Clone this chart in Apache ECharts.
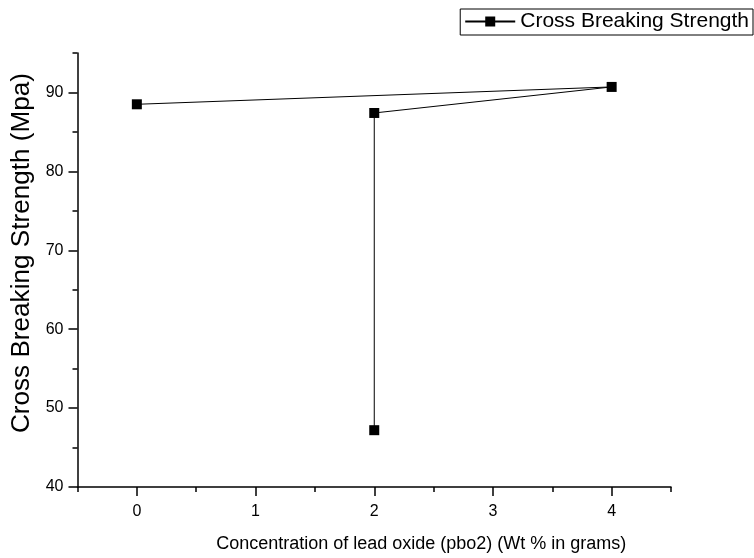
<!DOCTYPE html>
<html>
<head>
<meta charset="utf-8">
<script src="https://cdn.jsdelivr.net/npm/echarts@6/dist/echarts.min.js"></script>
<style>html,body{margin:0;padding:0;background:#fff}#c{width:754px;height:558px}</style>
</head>
<body>
<div id="c"></div>
<script>
const seriesName = 'Cross Breaking Strength';
const xValues = [0, 4, 2, 2];
const yValues = [88.5, 90.7, 87.4, 47.2];
const xTickLabels = [0, 1, 2, 3, 4];
const yTickLabels = [40, 50, 60, 70, 80, 90];
const xTitle = 'Concentration of lead oxide (pbo2) (Wt % in grams)';
const yTitle = 'Cross Breaking Strength (Mpa)';

const FONT = '"Liberation Sans", Arial, sans-serif';
const points = xValues.map((x, i) => [x, yValues[i]]);

const chart = echarts.init(document.getElementById('c'), null, {renderer: 'canvas'});
const baseAxis = {
  type: 'value',
  splitLine: {show: false},
  axisLine: {onZero: false, lineStyle: {color: '#000', width: 1.5}},
  axisTick: {inside: false, length: 5, lineStyle: {color: '#000', width: 1.5}},
  axisLabel: {show: false}
};
chart.setOption({
  animation: false,
  textStyle: {fontFamily: FONT},
  grid: {left: 77.5, right: 83, top: 53, bottom: 67.5},
  legend: {
    data: [seriesName],
    right: 1, top: 9,
    borderColor: '#000', borderWidth: 1,
    borderRadius: 0,
    padding: [2, 4, 3, 4],
    itemWidth: 50, itemHeight: 12.5,
    itemGap: 6,
    textStyle: {fontSize: 21, color: '#000', fontFamily: FONT}
  },
  graphic: [{
    type: 'text',
    x: 22.5, y: 253,
    rotation: Math.PI / 2,
    scaleX: 1.045,
    silent: true,
    style: {
      text: yTitle,
      fontSize: 25,
      fontFamily: FONT,
      fill: '#000',
      textAlign: 'center',
      textVerticalAlign: 'middle'
    }
  }],
  xAxis: [
    Object.assign({}, baseAxis, {position: 'bottom', min: -0.5, max: 4.5, interval: 0.5}),
    {
      type: 'value', position: 'bottom', min: -0.5, max: 4.5, interval: 0.5,
      splitLine: {show: false},
      axisLine: {show: false, onZero: false},
      axisTick: {show: true, length: 9, customValues: xTickLabels, lineStyle: {color: '#000', width: 1.5}},
      axisLabel: {show: true, customValues: xTickLabels, fontSize: 16, color: '#000', margin: 17, fontFamily: FONT},
      name: xTitle,
      nameLocation: 'middle', nameGap: 48,
      nameTextStyle: {fontSize: 18, color: '#000', fontFamily: FONT, padding: [0, 0, 0, 94]}
    }
  ],
  yAxis: [
    Object.assign({}, baseAxis, {position: 'left', min: 40, max: 95, interval: 5}),
    {
      type: 'value', position: 'left', min: 40, max: 95, interval: 5,
      splitLine: {show: false},
      axisLine: {show: false, onZero: false},
      axisTick: {show: true, length: 9, customValues: yTickLabels, lineStyle: {color: '#000', width: 1.5}},
      axisLabel: {show: true, customValues: yTickLabels, fontSize: 16, color: '#000', margin: 14, fontFamily: FONT}
    }
  ],
  series: [{
    name: seriesName,
    type: 'line',
    xAxisIndex: 0, yAxisIndex: 0,
    data: points,
    symbol: 'rect', symbolSize: 10,
    itemStyle: {color: '#000'},
    lineStyle: {color: '#000', width: 1}
  }]
});
</script>
</body>
</html>
